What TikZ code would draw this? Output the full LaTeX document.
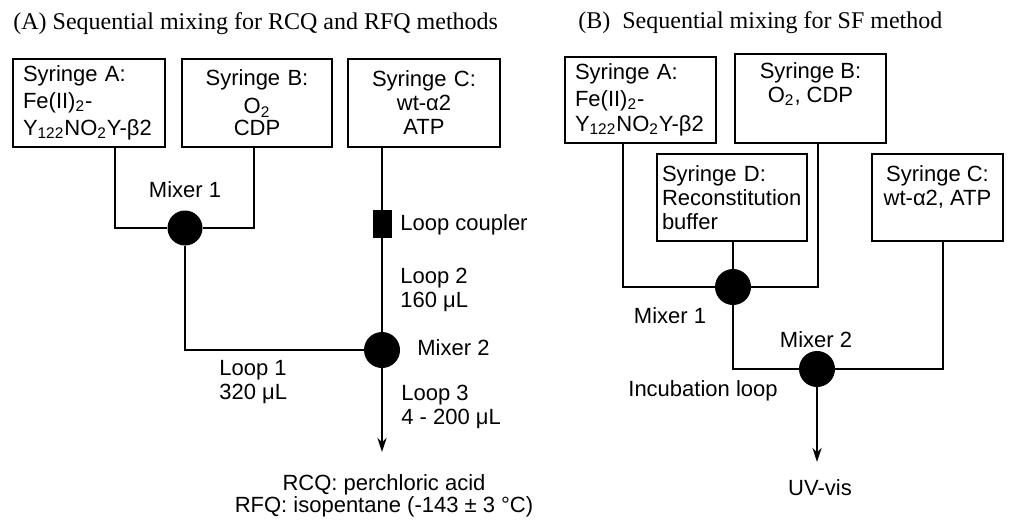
\documentclass[tikz,border=0pt]{standalone}
\usepackage{fontspec}
\setmainfont{Liberation Sans}
\newfontfamily\titlefont{Liberation Serif}
\usetikzlibrary{arrows.meta}
\begin{document}
\begin{tikzpicture}[x=0.5pt,y=-0.5pt,
  sans/.style={font=\fontsize{11}{12}\selectfont},
  box/.style={draw,line width=0.8pt,inner ysep=0pt,sans},
  boxl/.style={box,align=left},
  boxc/.style={box,align=center},
  mixer/.style={circle,fill=black,inner sep=0pt,minimum size=17.5pt},
  coupler/.style={rectangle,fill=black,inner sep=0pt,minimum width=9.5pt,minimum height=14pt},
  wire/.style={line width=1.2pt},
  arr/.style={wire,-{Stealth[length=7pt,width=4.5pt]}},
  lbl/.style={sans,inner sep=0pt},
  ttl/.style={font=\titlefont\fontsize{12}{14}\selectfont,inner sep=0pt}]
\useasboundingbox (0,0) rectangle (1010,519);

% ---------------- Panel A ----------------
\node[ttl,anchor=base west] (tA) at (13,30) {(A) Sequential mixing for RCQ and RFQ methods};

\node[boxl,inner xsep=5pt,text width=66pt,minimum height=44pt] (sAa) at (89,103)
  {Syringe A:\\[1.5pt] Fe(II)\textsubscript{2}-\\[1.5pt] Y\textsubscript{122}NO\textsubscript{2}Y-β2};
\node[boxc,inner xsep=0pt,text width=75pt,minimum height=44pt] (sAb) at (257,103)
  {Syringe B:\\[2pt] O\textsubscript{2}\\[-1pt] CDP};
\node[boxc,inner xsep=0pt,text width=76pt,minimum height=44pt] (sAc) at (424,103)
  {Syringe C:\\ wt-α2\\ ATP};

\node[mixer] (m1a) at (185,228) {};
\node[mixer,minimum size=18pt] (m2a) at (382,350) {};
\node[coupler] (cpl) at (382,224) {};
\coordinate (endA) at (382,452);

\draw[wire] ([xshift=13pt]sAa.south) |- (m1a);
\draw[wire] ([xshift=-1.5pt]sAb.south) |- (m1a);
\draw[wire] (m1a) |- (m2a);
\draw[wire] (cpl |- sAc.south) -- (cpl);
\draw[wire] (cpl) -- (m2a);
\draw[arr] (m2a) -- (endA);

\node[lbl,anchor=base] (lm1a) at (185,197) {Mixer 1};
\node[lbl,anchor=base west] (lcpl) at (400,230) {Loop coupler};
\node[lbl,anchor=north west,align=left] (lL2) at (400,268) {Loop 2\\ 160 μL};
\node[lbl,anchor=base west] (lm2a) at (417,355) {Mixer 2};
\node[lbl,anchor=north west,align=left] (lL1) at (219,360) {Loop 1\\ 320 μL};
\node[lbl,anchor=north west,align=left] (lL3) at (401,385) {Loop 3\\ 4 - 200 μL};
\node[lbl,anchor=north,align=center,font=\fontsize{11}{9.75}\selectfont] (outA) at (384,474)
  {RCQ: perchloric acid\\ RFQ: isopentane (-143 ± 3 °C)};

% ---------------- Panel B ----------------
\node[ttl,anchor=base west] (tB) at (578,29) {(B)\ \ Sequential mixing for SF method};

\node[boxl,inner xsep=5pt,text width=65.5pt,minimum height=43pt] (sBa) at (640.5,100)
  {Syringe A:\\[1.5pt] Fe(II)\textsubscript{2}-\\[0.5pt] Y\textsubscript{122}NO\textsubscript{2}Y-β2};
\node[box,minimum width=75.5pt,minimum height=44.5pt] (sBb) at (810.5,98.5) {};
\node[lbl,anchor=north,align=center] (tBb) at (810.5,62) {Syringe B:\\ O\textsubscript{2}, CDP};
\node[boxl,inner xsep=2.5pt,text width=70pt,minimum height=43.5pt] (sBd) at (732,197.5)
  {Syringe D:\\ Reconstitution\\ buffer};
\node[box,minimum width=65.5pt,minimum height=43.5pt] (sBc) at (937.5,197.5) {};
\node[lbl,anchor=north,align=center] (tBc) at (937.5,165) {Syringe C:\\ wt-α2, ATP};

\node[mixer,minimum size=18pt] (m1b) at (733,287) {};
\node[mixer,minimum size=18pt] (m2b) at (817,369) {};
\coordinate (endB) at (817,462);

\draw[wire] ([xshift=-8.75pt]sBa.south) |- (m1b);
\draw[wire] (sBd.south -| m1b) -- (m1b);
\draw[wire] ([xshift=3.75pt]sBb.south) |- (m1b);
\draw[wire] (m1b) |- (m2b);
\draw[wire] ([xshift=2.75pt]sBc.south) |- (m2b);
\draw[arr] (m2b) -- (endB);

\node[lbl,anchor=base] (lm1b) at (670,323) {Mixer 1};
\node[lbl,anchor=base] (lm2b) at (816,347) {Mixer 2};
\node[lbl,anchor=base] (linc) at (703,396) {Incubation loop};
\node[lbl,anchor=base] (luv) at (820,495) {UV-vis};
\end{tikzpicture}
\end{document}
